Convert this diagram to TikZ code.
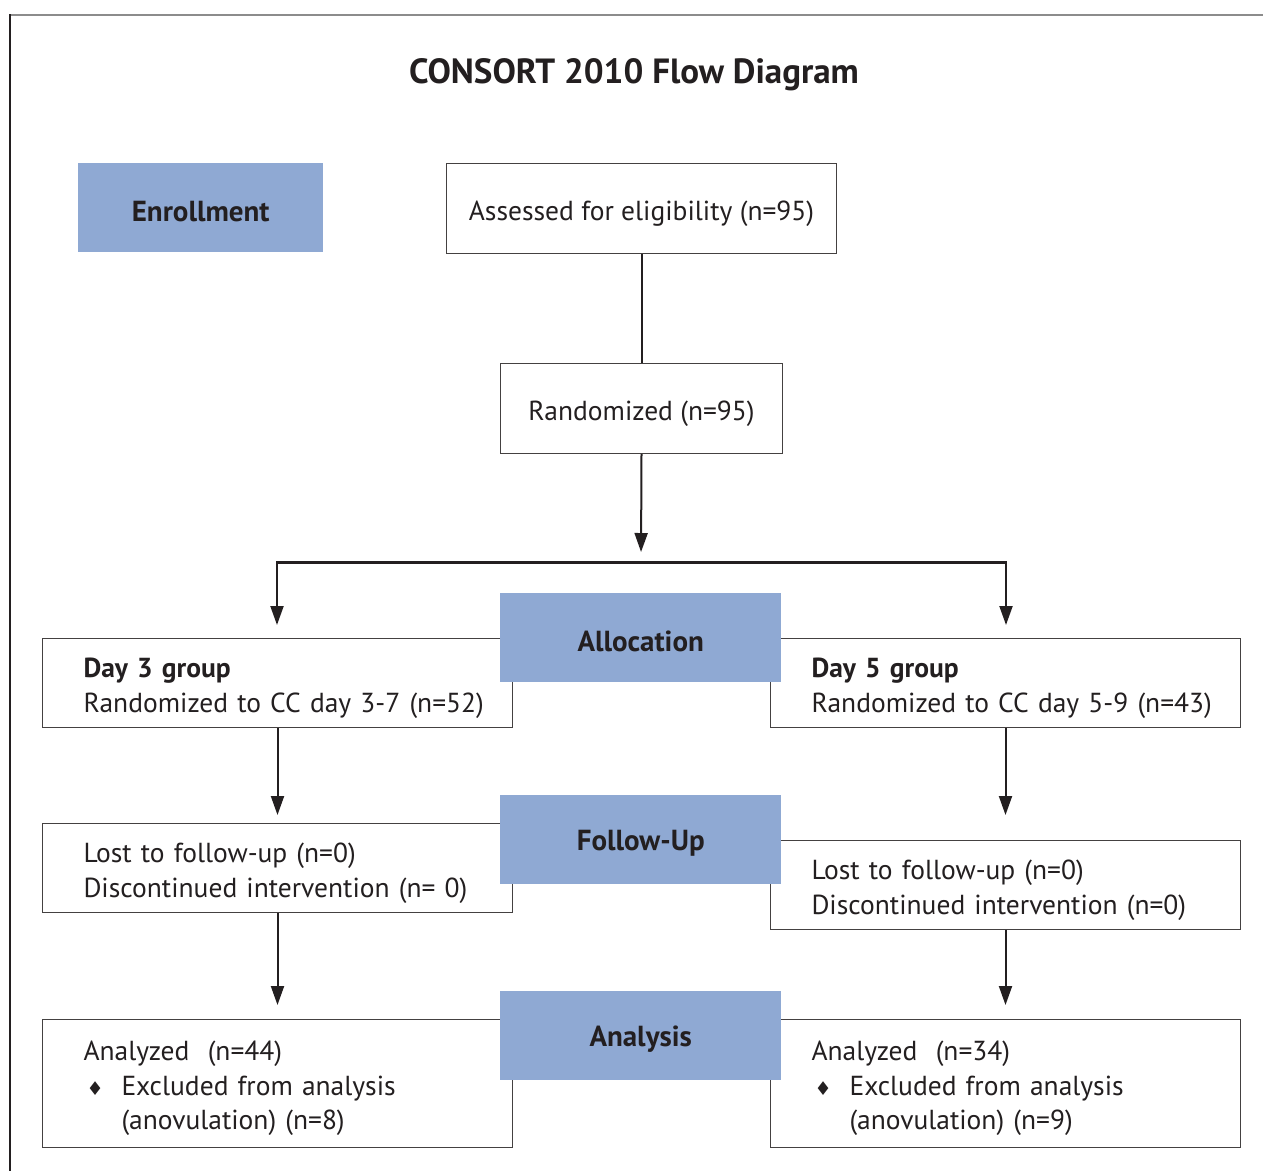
\documentclass[tikz,border=0pt]{standalone}
\usepackage{fontspec}
\setmainfont{PT Sans}
\newfontfamily\symfont{DejaVu Sans}
\usetikzlibrary{arrows.meta}
\definecolor{hdrblue}{RGB}{143,169,211}
\definecolor{ink}{RGB}{35,31,32}
\definecolor{framegray}{RGB}{140,140,140}
\newcommand{\dnstrut}{\rule{0pt}{30pt}}
\newcommand{\hdstrut}{\rule{0pt}{27.5pt}}
\tikzset{
  whitebox/.style={draw=ink!85, line width=1pt, fill=white, anchor=north west, inner sep=0pt},
  hdrbox/.style={fill=hdrblue, anchor=north west, inner sep=0pt, font=\bfseries\fontsize{29}{32}\selectfont, text=ink},
  conn/.style={draw=ink, line width=2pt},
  arr/.style={conn, -{Triangle[length=19pt,width=13pt]}},
  bar/.style={draw=ink, line width=3pt},
}
\newcommand{\bodyfont}{\fontsize{27.5}{34.5}\selectfont}
\newcommand{\dmd}{\makebox[38pt][l]{\hspace{3pt}{\symfont\fontsize{19}{20}\selectfont ♦}}}
\begin{document}
\begin{tikzpicture}[x=1pt,y=-1pt, text=ink]
\useasboundingbox (0,0) rectangle (1263,1171);
% frame
\draw[framegray, line width=2pt] (10,15) -- (1263,15);
\draw[ink, line width=1.3pt] (10,14) -- (10,1171);
% title
\node[font=\bfseries\fontsize{35}{38}\selectfont] (title) at (634,75) {CONSORT 2010 Flow Diagram};
% top boxes
\node[whitebox, minimum width=390, minimum height=90, font=\bodyfont] (assess) at (446,163) {\dnstrut Assessed for eligibility (n=95)};
\node[whitebox, minimum width=282, minimum height=90, font=\bodyfont] (rand) at (500,363) {\dnstrut Randomized (n=95)};
% group boxes
\node[whitebox, minimum width=470, minimum height=89, font=\bodyfont, align=left, text width=470] (day3) at (42,638)
  {\hspace*{41pt}\dnstrut\textbf{Day 3 group}\\\hspace*{41pt}Randomized to CC day 3-7 (n=52)};
\node[whitebox, minimum width=470, minimum height=89, font=\bodyfont, align=left, text width=470] (day5) at (770,638)
  {\hspace*{41pt}\dnstrut\textbf{Day 5 group}\\\hspace*{41pt}Randomized to CC day 5-9 (n=43)};
\node[whitebox, minimum width=470, minimum height=89, font=\bodyfont, align=left, text width=470] (lost3) at (42,823)
  {\hspace*{41pt}\dnstrut Lost to follow-up (n=0)\\\hspace*{41pt}Discontinued intervention (n= 0)};
\node[whitebox, minimum width=470, minimum height=89, font=\bodyfont, align=left, text width=470] (lost5) at (770,840)
  {\hspace*{41pt}\dnstrut Lost to follow-up (n=0)\\\hspace*{41pt}Discontinued intervention (n=0)};
\node[whitebox, minimum width=470, minimum height=128, font=\bodyfont, align=left, text width=470] (ana3) at (42,1019)
  {\hspace*{41pt}\dnstrut Analyzed\ \ (n=44)\\\hspace*{41pt}\dmd Excluded from analysis\\\hspace*{79pt}(anovulation) (n=8)};
\node[whitebox, minimum width=470, minimum height=128, font=\bodyfont, align=left, text width=470] (ana5) at (770,1019)
  {\hspace*{41pt}\dnstrut Analyzed\ \ (n=34)\\\hspace*{41pt}\dmd Excluded from analysis\\\hspace*{79pt}(anovulation) (n=9)};
% header boxes
\node[hdrbox, minimum width=245, minimum height=89] (enrol) at (78,163) {\hdstrut Enrollment};
\node[hdrbox, minimum width=281, minimum height=89] (alloc) at (500,593) {\hdstrut Allocation};
\node[hdrbox, minimum width=281, minimum height=89] (follow) at (500,795) {\hdstrut Follow-Up};
\node[hdrbox, minimum width=281, minimum height=89] (anal) at (500,991) {\hdstrut Analysis};
% connectors
\coordinate (split) at (641,562);
\coordinate (jL) at (277,562);
\coordinate (jR) at (1006,562);
\draw[conn] (assess.south) -- (rand.north);
\draw[arr, shorten >=10pt] (rand.south) -- (split);
\draw[bar] ([xshift=-1pt]jL) -- ([xshift=1pt]jR);
\draw[arr, shorten >=13pt] (jL) -- (jL |- day3.north);
\draw[arr, shorten >=13pt] (jR) -- (jR |- day5.north);
\draw[arr, shorten >=8pt] (day3.south) -- (lost3.north);
\draw[arr, shorten >=25pt] (day5.south) -- (lost5.north);
\draw[arr, shorten >=14pt] (lost3.south) -- (ana3.north);
\draw[arr, shorten >=14pt] (lost5.south) -- (ana5.north);
\end{tikzpicture}
\end{document}
